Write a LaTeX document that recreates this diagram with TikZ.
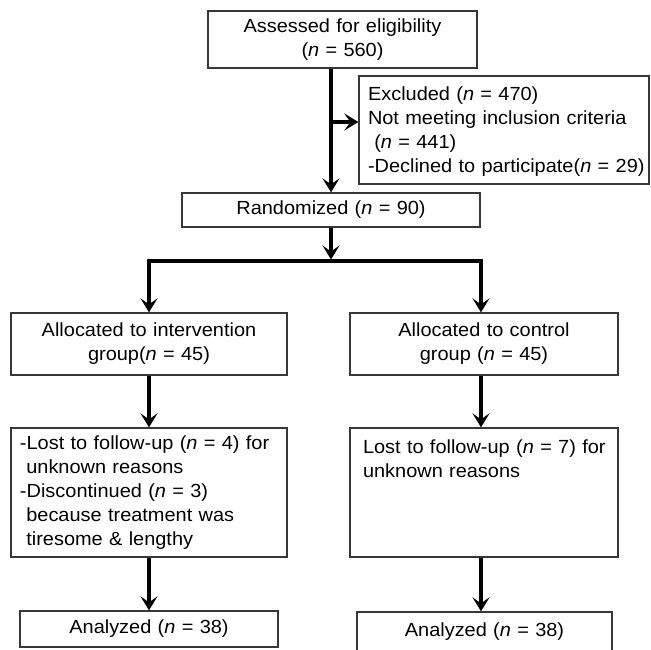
\documentclass[tikz,border=0pt]{standalone}
\usepackage{fontspec}
\setmainfont{Liberation Sans}[FakeStretch=1.05]
\usetikzlibrary{arrows.meta}
\definecolor{bordegris}{RGB}{55,55,55}

\begin{document}
\begin{tikzpicture}[x=1pt, y=-1pt,
    caja/.style={draw=bordegris, line width=1.3pt, inner xsep=0pt, inner ysep=0pt,
        font=\fontsize{19}{24}\selectfont},
    flecha/.style={line width=3.2pt, -{Stealth[length=14pt, width=17pt, inset=6pt]}}]

    % Marco de la figura
    \useasboundingbox (0,0) rectangle (651,650);

    % Cajas superiores
    \node[caja, align=center, text width=269pt, minimum height=57pt] (evaluados) at (342.5,39.5)
        {Assessed for eligibility\\(\textit{n} = 560)};
    \node[caja, align=left, text width=290pt, text height=25pt, text depth=83pt] (excluidos) at (504,130)
        {\leftskip=9pt Excluded (\textit{n} = 470)\\Not meeting inclusion criteria\\\ (\textit{n} = 441)\\\mbox{-Declined to participate(\textit{n} = 29)}\par};
    \node[caja, align=center, text width=298pt, minimum height=34pt] (aleatorizados) at (331,210)
        {Randomized (\textit{n} = 90)};

    % Rama izquierda
    \node[caja, align=center, text width=276pt, minimum height=62pt] (intervencion) at (149,344)
        {Allocated to intervention\\group(\textit{n} = 45)};
    \node[caja, align=left, text width=276pt, minimum height=129pt] (perdidosI) at (149,492.5)
        {\leftskip=9pt -Lost to follow-up (\textit{n} = 4) for\\\ unknown reasons\\-Discontinued (\textit{n} = 3)\\\ because treatment was\\\ tiresome \& lengthy\par};
    \node[caja, align=center, text width=258pt, minimum height=36pt] (analizadosI) at (149,629)
        {Analyzed (\textit{n} = 38)};

    % Rama derecha
    \node[caja, align=center, text width=268pt, minimum height=62pt] (control) at (484,344)
        {Allocated to control\\group (\textit{n} = 45)};
    \node[caja, align=left, text width=268pt, text height=25pt, text depth=104pt] (perdidosC) at (484,492.5)
        {\leftskip=13pt Lost to follow-up (\textit{n} = 7) for\\unknown reasons\par};
    \node[caja, align=center, text width=255pt, minimum height=40pt] (analizadosC) at (484.5,632)
        {Analyzed (\textit{n} = 38)};

    % Puntos de quiebre
    \coordinate (rama) at (331,122);
    \coordinate (splitL) at (149,261);
    \coordinate (splitR) at (481,261);
    \coordinate (llegada) at (331,259.5);

    % Flechas
    \draw[flecha] (evaluados.south -| aleatorizados.north) -- (aleatorizados.north);
    \draw[flecha] (rama) -- (rama -| excluidos.west);
    \draw[flecha] (aleatorizados.south) -- (llegada);
    \draw[flecha] (splitR) -- (splitL) -- (splitL |- intervencion.north);
    \draw[flecha] (splitL) -- (splitR) -- (splitR |- control.north);
    \draw[flecha] (intervencion.south) -- (perdidosI.north);
    \draw[flecha] (perdidosI.south) -- (analizadosI.north);
    \draw[flecha] (control.south -| splitR) -- (perdidosC.north -| splitR);
    \draw[flecha] (perdidosC.south -| splitR) -- (analizadosC.north -| splitR);

\end{tikzpicture}
\end{document}
